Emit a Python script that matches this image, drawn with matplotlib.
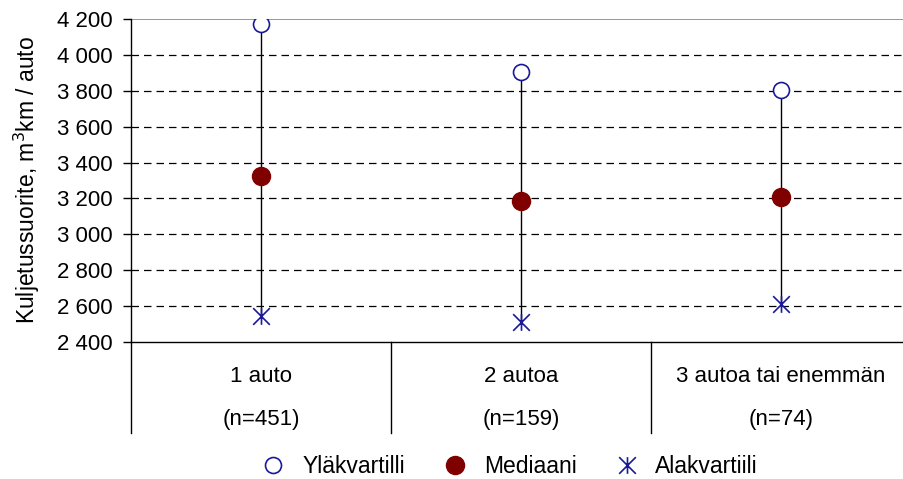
import matplotlib as mpl

mpl.use("Agg")

import matplotlib.pyplot as plt
from matplotlib.path import Path
from matplotlib.ticker import FuncFormatter, MultipleLocator

plt.rcParams["font.family"] = ["Liberation Sans", "DejaVu Sans"]

categories = ["1 auto", "2 autoa", "3 autoa tai enemmän"]
counts = ["(n=451)", "(n=159)", "(n=74)"]
upper_quartile = [4172, 3905, 3805]
median = [3325, 3186, 3208]
lower_quartile = [2543, 2513, 2613]

star = Path(
    [(-1, -1), (1, 1), (-1, 1), (1, -1), (0, -1), (0, 1)],
    [Path.MOVETO, Path.LINETO, Path.MOVETO, Path.LINETO, Path.MOVETO, Path.LINETO],
)

fig = plt.figure(figsize=(9.04, 4.79), dpi=100)
ax = fig.add_axes([131 / 904, 137 / 479, 780 / 904, 323 / 479])

x = list(range(len(categories)))
ax.vlines(x, lower_quartile, upper_quartile, color="black", linewidth=1.0, zorder=2)
ax.plot(x, upper_quartile, linestyle="none", marker="o", markersize=11.5,
        markerfacecolor="white", markeredgecolor="#1a1a99", markeredgewidth=1.2,
        label="Yläkvartilli", zorder=3)
ax.plot(x, median, linestyle="none", marker="o", markersize=13,
        markerfacecolor="#800000", markeredgecolor="#800000",
        label="Mediaani", zorder=3)
ax.plot(x, lower_quartile, linestyle="none", marker=star, markersize=12,
        markerfacecolor="none", markeredgecolor="#1a1a99", markeredgewidth=1.2,
        label="Alakvartiili", zorder=3)

ax.set_xlim(-0.5, 2.5)
ax.set_ylim(2400, 4200)
ax.yaxis.set_major_locator(MultipleLocator(200))
ax.yaxis.set_major_formatter(FuncFormatter(lambda v, _: f"{v:,.0f}".replace(",", " ")))
ax.tick_params(axis="y", labelsize=16, length=6, width=1, direction="out", pad=7)
ax.set_xticks([])
for v in range(2600, 4200, 200):
    ax.axhline(v, color="black", linewidth=0.9, linestyle=(0, (6, 4)), zorder=1)
ax.axhline(4200, color="#888888", linewidth=1.2, zorder=1)

ax.spines["top"].set_visible(False)
ax.spines["right"].set_visible(False)
ax.spines["left"].set_linewidth(1.0)
ax.spines["bottom"].set_linewidth(1.0)

ax.set_ylabel("Kuljetussuorite, m$^3$km / auto", fontsize=16.5)
ax.yaxis.set_label_coords(-0.114, 0.5)

trans = ax.get_xaxis_transform()
for xi, name, n in zip(x, categories, counts):
    ax.text(xi, -0.108, name, transform=trans, ha="center", va="center", fontsize=16)
    ax.text(xi, -0.241, n, transform=trans, ha="center", va="center", fontsize=16)
for sep in [-0.5, 0.5, 1.5, 2.5]:
    ax.plot([sep, sep], [0, -0.282], transform=trans, color="black",
            linewidth=1.0, clip_on=False)

fig.legend(loc="center", bbox_to_anchor=(510 / 904, 0.027), ncol=3, frameon=False,
           fontsize=16.5, handletextpad=0.76, columnspacing=1.68, handlelength=1.0,
           borderpad=0, borderaxespad=0)

fig.savefig("out.png", dpi=100)
